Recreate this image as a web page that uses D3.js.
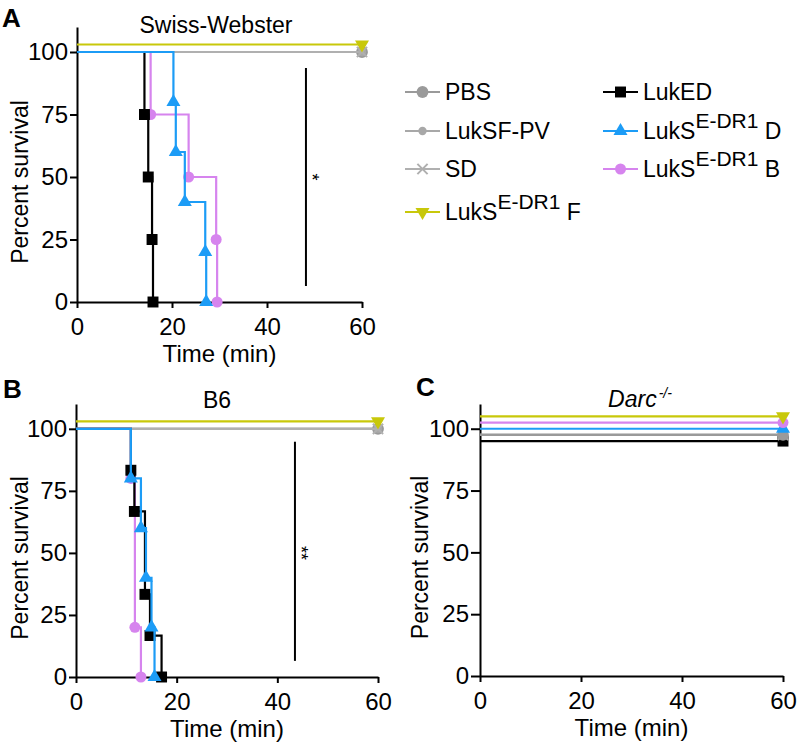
<!DOCTYPE html>
<html>
<meta charset="utf-8">
<head>
<script src="https://d3js.org/d3.v7.min.js"></script>
<style>
  body { margin: 0; background: #fff; }
  svg { display: block; font-family: "Liberation Sans", Arial, Helvetica, sans-serif; }
  .axis path, .axis line { stroke: #000; stroke-width: 2; }
  .axis text { fill: #000; font-size: 24px; font-family: "Liberation Sans", Arial, sans-serif; }
</style>
</head>
<body>
<svg id="fig" width="798" height="745"></svg>
<script>
// series (legend order)
var seriesNames = ["PBS", "LukSF-PV", "SD", "LukS E-DR1 F", "LukED", "LukS E-DR1 D", "LukS E-DR1 B"];
var xTicks = [0, 20, 40, 60];
var yTicks = [0, 25, 50, 75, 100];

// A: Swiss-Webster, [time, percent survival]
var swissPBS = [[0, 100], [60, 100]];
var swissSFPV = [[0, 100], [60, 100]];
var swissSD = [[0, 100], [60, 100]];
var swissF = [[0, 103], [60, 103]];
var swissLukED = [[0, 100], [14.2, 75], [15, 50], [15.8, 25], [16, 0]];
var swissD = [[0, 100], [20.3, 80], [20.8, 60], [22.7, 40], [27, 20], [27.2, 0]];
var swissB = [[0, 100], [15.5, 75], [23.5, 50], [29.3, 25], [29.5, 0]];

// B: B6
var b6PBS = [[0, 100], [60, 100]];
var b6SFPV = [[0, 100], [60, 100]];
var b6SD = [[0, 100], [60, 100]];
var b6F = [[0, 103], [60, 103]];
var b6LukED = [[0, 100], [10.9, 83.3], [11.6, 66.7], [13.7, 33.3], [14.7, 16.7], [17, 0]];
var b6D = [[0, 100], [10.9, 80], [12.9, 60], [13.9, 40], [15, 20], [15.6, 0]];
var b6B = [[0, 100], [10.9, 80], [11.7, 20], [12.9, 0]];

// C: Darc-/-
var darcPBS = [[0, 97.5], [60, 97.5]];
var darcSFPV = [[0, 97.5], [60, 97.5]];
var darcSD = [[0, 97.5], [60, 97.5]];
var darcF = [[0, 105], [60, 105]];
var darcLukED = [[0, 95], [60, 95]];
var darcD = [[0, 100], [60, 100]];
var darcB = [[0, 102.5], [60, 102.5]];

// significance bars [time, from, to]
var swissSig = [48.2, 6.4, 93.6];
var b6Sig = [43.5, 6.5, 94.8];

var colors = {
  "PBS": "#9a9a9a", "LukSF-PV": "#a8a8a8", "SD": "#b0b0b0",
  "LukS E-DR1 F": "#c8c80a", "LukED": "#000000",
  "LukS E-DR1 D": "#1c9cf6", "LukS E-DR1 B": "#d684ee"
};

var svg = d3.select("#fig");

function marker(name) {
  if (name === "PBS") return d3.symbol(d3.symbolCircle, 110)();
  if (name === "LukSF-PV") return d3.symbol(d3.symbolCircle, 55)();
  if (name === "SD") return d3.symbol(d3.symbolTimes, 70)();
  if (name === "LukS E-DR1 F") return d3.symbol(d3.symbolTriangle, 85)();
  if (name === "LukED") return d3.symbol(d3.symbolSquare, 120)();
  if (name === "LukS E-DR1 D") return d3.symbol(d3.symbolTriangle, 85)();
  return d3.symbol(d3.symbolCircle, 95)();
}

function drawPanel(p) {
  var x = d3.scaleLinear().domain([0, 60]).range(p.xr);
  var y = d3.scaleLinear().domain([0, 110]).range(p.yr);
  var g = svg.append("g");

  g.append("g").attr("class", "axis")
    .attr("transform", "translate(0," + y(0) + ")")
    .call(d3.axisBottom(x).tickValues(xTicks).tickSize(6).tickPadding(10).tickSizeOuter(0));
  g.append("g").attr("class", "axis")
    .attr("transform", "translate(" + x(0) + ",0)")
    .call(d3.axisLeft(y).tickValues(yTicks).tickSize(p.ytick).tickPadding(2).tickSizeOuter(0));

  var line = d3.line().x(function(d) { return x(d[0]); }).y(function(d) { return y(d[1]); })
    .curve(d3.curveStepAfter);

  p.series.forEach(function(s) {
    var c = colors[s.name];
    g.append("path").datum(s.data)
      .attr("d", line).attr("fill", "none")
      .attr("stroke", c).attr("stroke-width", 2.2);
    var pts = s.data.slice(1);
    g.selectAll(null).data(pts).enter().append("path")
      .attr("d", marker(s.name))
      .attr("transform", function(d) {
        return "translate(" + x(d[0]) + "," + y(d[1]) + ")" + (s.name === "LukS E-DR1 F" ? " rotate(180)" : "");
      })
      .attr("fill", s.name === "SD" ? "none" : c)
      .attr("stroke", s.name === "SD" ? c : "none")
      .attr("stroke-width", 2);
  });

  if (p.sig) {
    g.append("line")
      .attr("x1", x(p.sig[0])).attr("x2", x(p.sig[0]))
      .attr("y1", y(p.sig[1])).attr("y2", y(p.sig[2]))
      .attr("stroke", "#000").attr("stroke-width", 2);
    g.append("text")
      .attr("transform", "translate(" + (x(p.sig[0]) - 2) + "," + y(50) + ") rotate(90)")
      .attr("text-anchor", "middle").attr("dy", "-0.1em")
      .attr("fill", "#000")
      .style("font-size", "18px").text(p.stars);
  }

  // axis titles
  g.append("text").attr("x", (p.xr[0] + p.xr[1]) / 2).attr("y", y(0) + 60)
    .attr("text-anchor", "middle").style("font-size", "24px").text("Time (min)");
  g.append("text")
    .attr("transform", "translate(" + p.ylabX + "," + ((y(0) + y(100)) / 2 + 5) + ") rotate(-90)")
    .attr("text-anchor", "middle").style("font-size", "23px").text("Percent survival");

  // panel letter
  g.append("text").attr("x", p.letterX).attr("y", p.letterY)
    .style("font-size", "26px").style("font-weight", "bold").text(p.letter);
  return g;
}

function fullSeries(pbs, sfpv, sd, f, luked, dd, bb) {
  return [
    {name: "PBS", data: pbs}, {name: "LukSF-PV", data: sfpv}, {name: "SD", data: sd},
    {name: "LukS E-DR1 F", data: f}, {name: "LukS E-DR1 B", data: bb},
    {name: "LukED", data: luked}, {name: "LukS E-DR1 D", data: dd}
  ];
}

var gA = drawPanel({
  xr: [77, 362], yr: [302, 27], ytick: 7, ylabX: 28,
  letter: "A", letterX: 2, letterY: 27,
  sig: swissSig, stars: "*",
  series: fullSeries(swissPBS, swissSFPV, swissSD, swissF, swissLukED, swissD, swissB)
});
gA.append("text").attr("x", 216).attr("y", 33).attr("text-anchor", "middle")
  .style("font-size", "23px").text("Swiss-Webster");

var gB = drawPanel({
  xr: [76, 378], yr: [677, 404], ytick: 7, ylabX: 28,
  letter: "B", letterX: 3, letterY: 398,
  sig: b6Sig, stars: "**",
  series: fullSeries(b6PBS, b6SFPV, b6SD, b6F, b6LukED, b6D, b6B)
});
gB.append("text").attr("x", 217).attr("y", 408).attr("text-anchor", "middle")
  .style("font-size", "23px").text("B6");

// panel C: draw order by offset
var gC = drawPanel({
  xr: [480, 783], yr: [676, 404], ytick: 9, ylabX: 428,
  letter: "C", letterX: 416, letterY: 396,
  series: [
    {name: "LukED", data: darcLukED}, {name: "SD", data: darcSD},
    {name: "LukSF-PV", data: darcSFPV}, {name: "PBS", data: darcPBS},
    {name: "LukS E-DR1 D", data: darcD}, {name: "LukS E-DR1 B", data: darcB},
    {name: "LukS E-DR1 F", data: darcF}
  ]
});
var tC = gC.append("text").attr("x", 640).attr("y", 407).attr("text-anchor", "middle")
  .style("font-size", "23px").style("font-style", "italic");
tC.append("tspan").text("Darc");
tC.append("tspan").attr("dy", -9).attr("dx", 2).style("font-size", "14px").text("-/-");

// legend
var legendPos = [
  [405, 92], [405, 131], [405, 169], [405, 212],
  [603, 92], [603, 131], [603, 169]
];
var leg = svg.append("g");
seriesNames.forEach(function(name, i) {
  var px = legendPos[i][0], py = legendPos[i][1], c = colors[name];
  leg.append("line").attr("x1", px).attr("x2", px + 35).attr("y1", py).attr("y2", py)
    .attr("stroke", c).attr("stroke-width", 2.2);
  leg.append("path").attr("d", marker(name))
    .attr("transform", "translate(" + (px + 17.5) + "," + py + ")" + (name === "LukS E-DR1 F" ? " rotate(180)" : ""))
    .attr("fill", name === "SD" ? "none" : c)
    .attr("stroke", name === "SD" ? c : "none").attr("stroke-width", 2);
  var t = leg.append("text").attr("x", px + 40).attr("y", py + 8).style("font-size", "23px");
  if (name.indexOf("E-DR1") > 0) {
    t.append("tspan").text("LukS");
    t.append("tspan").attr("dy", -11).style("font-size", "21px").text("E-DR1");
    t.append("tspan").attr("dy", 11).text(" " + name.slice(-1));
  } else {
    t.text(name);
  }
});
</script>
</body>
</html>
